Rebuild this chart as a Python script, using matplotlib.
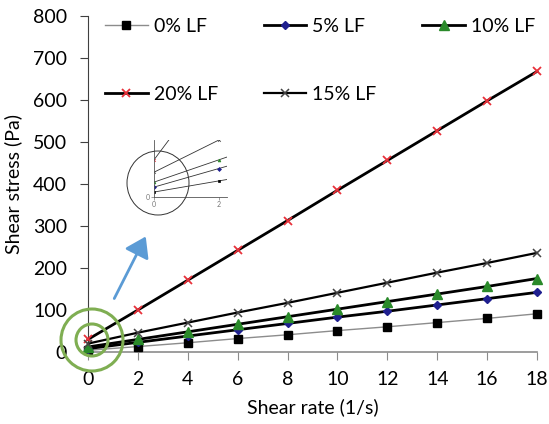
import matplotlib
matplotlib.use("Agg")
import matplotlib.pyplot as plt
from matplotlib.patches import Ellipse, FancyArrowPatch

plt.rcParams['font.family'] = ['Lato', 'DejaVu Sans']

# shear rate (1/s)
rate = [0, 2, 4, 6, 8, 10, 12, 14, 16, 18]

# shear stress (Pa) for each LF content
lf0 = [4, 13, 22, 32, 41, 51, 60, 70, 80, 91]
lf5 = [8, 23, 38, 53, 68, 83, 97, 112, 127, 142]
lf10 = [12, 30, 48, 66, 84, 102, 120, 138, 156, 175]
lf20 = [30, 100, 171, 242, 313, 385, 456, 527, 598, 668]
lf15 = [20, 46, 70, 94, 117, 141, 165, 189, 212, 236]

labels = ["0% LF", "5% LF", "10% LF", "20% LF", "15% LF"]

W, H = 549, 424
fig = plt.figure(figsize=(W / 100, H / 100), dpi=100)

def fx(px):
    return px / W

def fy(py):
    return 1 - py / H

ax = fig.add_axes([fx(88), fy(352), fx(537) - fx(88), fy(16) - fy(352)])

styles = [
    dict(color="#8c8c8c", lw=1.0, marker="s", ms=6, mfc="black", mec="black"),
    dict(color="black", lw=2.0, marker="D", ms=4.5, mfc="#1f1f8f", mec="#1f1f8f"),
    dict(color="black", lw=2.0, marker="^", ms=7, mfc="#2a8a2a", mec="#2a8a2a"),
    dict(color="black", lw=2.0, marker="x", ms=6, mfc="#e8313a", mec="#e8313a", mew=1.3),
    dict(color="black", lw=1.6, marker="x", ms=6, mfc="#444444", mec="#444444", mew=1.1),
]
series = [lf0, lf5, lf10, lf20, lf15]

lines = []
for ys, st, lab in zip(series, styles, labels):
    ln, = ax.plot(rate, ys, label=lab, clip_on=False, zorder=3, **st)
    lines.append(ln)

fs = 14
ax.set_xlim(0, 18)
ax.set_ylim(0, 800)
ax.set_xticks(range(0, 19, 2))
ax.set_yticks(range(0, 801, 100))
for s in ["top", "right"]:
    ax.spines[s].set_visible(False)
ax.spines["left"].set_color("#404040")
ax.spines["bottom"].set_color("#8c8c8c")
ax.spines["bottom"].set_linewidth(1.2)
ax.tick_params(axis="y", direction="out", length=6, color="#404040", labelsize=fs, pad=9)
ax.tick_params(axis="x", direction="out", length=6, color="#8c8c8c", labelsize=fs, pad=8)
ax.set_xlabel("Shear rate (1/s)", fontsize=fs, labelpad=7)
ax.set_ylabel("Shear stress (Pa)", fontsize=fs, labelpad=8)

# legend filled row-wise: reorder for column-major fill
order = [0, 3, 1, 4, 2]
fig.legend([lines[i] for i in order], [labels[i] for i in order],
           loc="upper left", bbox_to_anchor=(fx(105), fy(18)), ncol=3,
           frameon=False, fontsize=fs, handlelength=2.2, handletextpad=0.3,
           columnspacing=2.35, labelspacing=2.6, borderpad=0, borderaxespad=0)

# zoomed inset near origin
ins = fig.add_axes([fx(154), fy(197), fx(227) - fx(154), fy(140) - fy(197)])
for ys, st in zip(series, styles):
    ins.plot(rate, ys, color="#333333", lw=0.6, marker=st["marker"], ms=2,
             mfc=st["mfc"], mec=st["mec"], mew=0.5)
ins.set_xlim(0, 2.25)
ins.set_ylim(0, 46)
ins.patch.set_alpha(0)
for s in ["top", "right"]:
    ins.spines[s].set_visible(False)
for s in ["left", "bottom"]:
    ins.spines[s].set_linewidth(0.6)
    ins.spines[s].set_color("#555555")
ins.set_xticks([0, 2])
ins.set_yticks([0])
ins.tick_params(length=2, width=0.5, labelsize=5, colors="#777777", pad=1)

fig.add_artist(Ellipse((fx(158), fy(183)), 62 / W, 64 / H, transform=fig.transFigure,
                       fill=False, ec="#333333", lw=0.7))

# green circles marking the origin region
for r in (31, 16):
    fig.add_artist(Ellipse((fx(92), fy(340)), 2 * r / W, 2 * r / H,
                           transform=fig.transFigure, fill=False,
                           ec="#7fae52", lw=2.2, zorder=5))

fig.add_artist(FancyArrowPatch((fx(113), fy(301)), (fx(147), fy(234)),
                               transform=fig.transFigure, arrowstyle="-|>,head_length=6,head_width=4",
                               color="#5b9bd5", lw=2.0, mutation_scale=2))

fig.savefig("out.png", dpi=100)
